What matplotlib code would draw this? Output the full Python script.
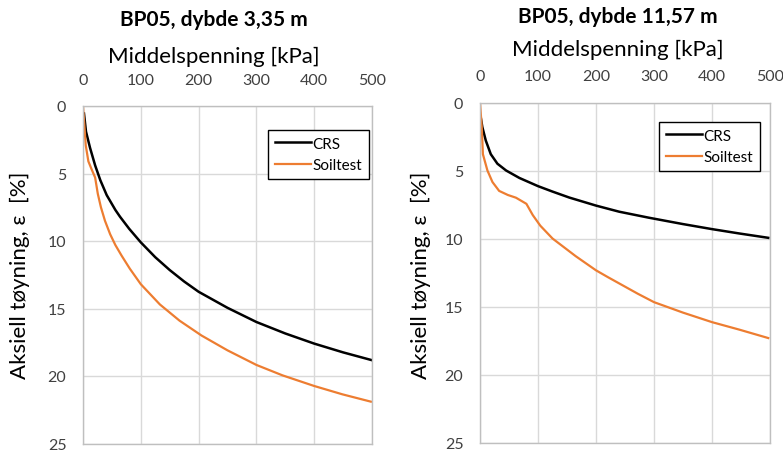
import matplotlib
matplotlib.use("Agg")
import matplotlib.pyplot as plt

plt.rcParams['font.family'] = ['Lato', 'DejaVu Sans']

# BP05, dybde 3,35 m
crs1_p = [1.7, 5.2, 12.2, 21, 30, 41, 56, 64, 80, 100, 125, 150, 175, 200, 250, 300, 350,
          400, 450, 500]
crs1_e = [0.56, 1.9, 3.1, 4.4, 5.5, 6.6, 7.7, 8.2, 9.1, 10.1, 11.2, 12.15, 13.0, 13.76, 14.95,
          16.0, 16.85, 17.6, 18.25, 18.83]
soil1_p = [0, 2.3, 4.7, 9.3, 15, 21, 25.6, 31, 38, 47, 56, 67, 81, 100, 133, 167, 205, 250,
           300, 345, 400, 449, 498]
soil1_e = [0, 1.4, 2.9, 4.1, 4.7, 5.3, 6.5, 7.5, 8.5, 9.5, 10.3, 11.1, 12.05, 13.2, 14.7,
           15.9, 17.0, 18.1, 19.18, 19.95, 20.74, 21.36, 21.9]

# BP05, dybde 11,57 m
crs2_p = [1.7, 4, 10, 18.6, 30, 45, 68, 100, 125, 154, 200, 240, 291, 350, 400, 447, 497]
crs2_e = [1.2, 1.8, 2.8, 3.8, 4.5, 5.0, 5.55, 6.15, 6.55, 6.99, 7.58, 8.03, 8.47, 8.94,
          9.31, 9.63, 9.95]
soil2_p = [0, 3, 5, 12.8, 21.5, 33, 48, 62, 74, 80, 91, 104, 125, 165, 200, 220, 272, 300,
           350, 400, 447, 497]
soil2_e = [0, 1.8, 3.8, 5.0, 5.85, 6.5, 6.8, 7.0, 7.3, 7.45, 8.28, 9.06, 10.0, 11.3, 12.34,
           12.83, 14.06, 14.68, 15.45, 16.15, 16.7, 17.32]

titles = ["BP05, dybde 3,35 m", "BP05, dybde 11,57 m"]
xlabel = "Middelspenning [kPa]"
ylabel = "Aksiell tøyning, ε  [%]"

W, H = 783, 452
fig = plt.figure(figsize=(W / 100, H / 100), dpi=100)

boxes = [(83, 107, 372, 444.5), (480, 103.5, 770, 443.5)]
legboxes = [(260, 123), (651, 115)]
series = [(crs1_p, crs1_e, soil1_p, soil1_e), (crs2_p, crs2_e, soil2_p, soil2_e)]
title_pos = [(214, 20, 57), (618, 17, 50)]
ylab_x = [20, 421]

for i in range(2):
    x0, y0, x1, y1 = boxes[i]
    ax = fig.add_axes([x0 / W, 1 - y1 / H, (x1 - x0) / W, (y1 - y0) / H])
    cp, ce, sp, se = series[i]
    ax.plot(cp, ce, color='black', lw=1.8, label='CRS')
    ax.plot(sp, se, color='#ED7D31', lw=1.6, label='Soiltest')
    ax.set_xlim(0, 500)
    ax.set_ylim(25, 0)
    ax.set_xticks(range(0, 501, 100))
    ax.set_yticks(range(0, 26, 5))
    ax.xaxis.tick_top()
    ax.tick_params(length=0, labelsize=11.5, colors='#404040')
    ax.tick_params(axis='x', pad=14)
    ax.tick_params(axis='y', pad=12)
    ax.grid(True, color='#d9d9d9', lw=1)
    for s in ax.spines.values():
        s.set_color('#bfbfbf')
        s.set_linewidth(1)
    lx, ly = legboxes[i]
    leg = ax.legend(loc='upper left', bbox_to_anchor=(lx / W, 1 - ly / H),
                    bbox_transform=fig.transFigure, fontsize=11, frameon=True,
                    fancybox=False, handlelength=2.4, handletextpad=0.1,
                    borderpad=0.45, labelspacing=0.5, framealpha=1)
    leg.get_frame().set_edgecolor('black')
    leg.get_frame().set_linewidth(1)

    tx, ty, my = title_pos[i]
    fig.text(tx / W, 1 - ty / H, titles[i], ha='center', va='center',
             fontsize=15, fontweight='bold')
    fig.text(tx / W, 1 - my / H, xlabel, ha='center', va='center', fontsize=16)
    fig.text(ylab_x[i] / W, 1 - 275 / H, ylabel, ha='center', va='center',
             rotation=90, fontsize=16)

fig.savefig('out.png', dpi=100)
